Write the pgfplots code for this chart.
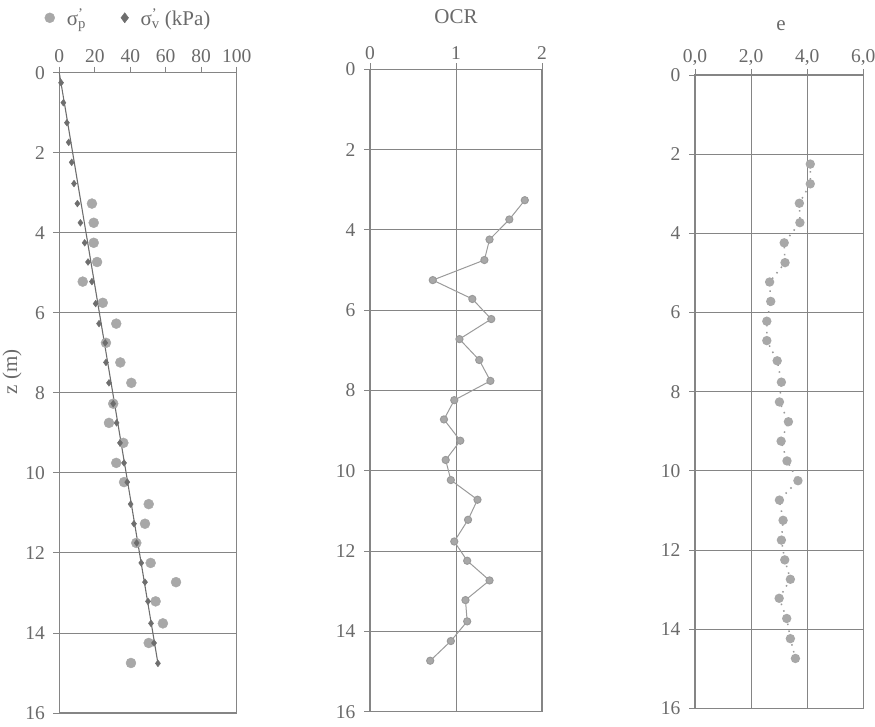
\documentclass[border=0pt]{standalone}
\usepackage{pgfplots}
\pgfplotsset{compat=1.18}
\usepackage{fontspec}
\setmainfont{Liberation Serif}
\definecolor{axgray}{HTML}{858585}
\definecolor{txtgray}{HTML}{6A6A6A}
\definecolor{ptgray}{HTML}{A8A8A8}
\definecolor{dgray}{HTML}{6E6E6E}
\definecolor{lgray}{HTML}{9A9A9A}

\pgfplotsset{
 myax/.style={
  scale only axis, anchor=north west,
  y dir=reverse, ymin=0, ymax=16,
  ytick={0,2,...,16}, yticklabels={0,2,4,6,8,10,12,14,16},
  xtick pos=right, xticklabel pos=right, ytick pos=left,
  axis line style={axgray, line width=1.1pt},
  ymajorgrids, grid style={axgray, line width=0.9pt},
  tick style={axgray, line width=0.9pt}, major tick length=6pt,
  tick align=outside,
  tick label style={font=\fontsize{19.5}{21}\selectfont, text=txtgray},
  yticklabel style={xshift=-5pt},
  xticklabel style={yshift=0pt},
  clip=false,
 }
}

\begin{document}
\begin{tikzpicture}
\path[use as bounding box] (0pt,0pt) rectangle (875pt,-726pt);

% Panel 1
\begin{axis}[myax, at={(59.3pt,-72.7pt)}, width=177.4pt, height=640.3pt,
  xmin=0, xmax=100, xtick={0,20,40,60,80,100}, xticklabels={0,20,40,60,80,100},
  legend columns=2,
  legend style={at={(axis description cs:-0.10,1.107)}, anchor=north west,
    draw=none, fill=none, font=\fontsize{21}{23}\selectfont, text=txtgray,
    /tikz/every odd column/.append style={column sep=10pt},
    /tikz/every even column/.append style={column sep=33pt}},
  ]
\addplot[only marks, mark=*, mark size=5pt, mark options={draw=ptgray, fill=ptgray}]
 coordinates {
 (18.4,3.27) (19.4,3.75) (19.4,4.25) (21.3,4.73) (13.2,5.22) (24.5,5.75)
 (32.1,6.27) (26.3,6.75) (34.4,7.24) (40.6,7.75) (30.4,8.27) (28.0,8.75)
 (36.1,9.25) (32.1,9.75) (36.5,10.23) (50.4,10.78) (48.3,11.27) (43.4,11.75)
 (51.5,12.25) (65.8,12.73) (54.3,13.21) (58.4,13.76) (50.4,14.25) (40.4,14.75)
 };
\addlegendentry{σ\rlap{\textsuperscript{'}}\textsubscript{p}}
\addplot[dgray, line width=1.1pt, forget plot] coordinates {(0,0) (55.6,14.76)};
\addplot[only marks, mark=diamond*, mark size=3.4pt, mark options={draw=dgray, fill=dgray},
  legend image post style={mark options={scale=1.5, draw=dgray, fill=dgray}}]
 coordinates {
 (1.0,0.25) (2.3,0.75) (4.3,1.25) (5.3,1.74) (7.0,2.24) (8.3,2.77) (10.2,3.27)
 (11.9,3.75) (14.3,4.25) (16.2,4.73) (18.4,5.22) (20.5,5.77) (22.4,6.27)
 (25.9,6.75) (26.3,7.24) (28.0,7.75) (30.4,8.27) (32.3,8.75) (34.2,9.25)
 (36.5,9.75) (38.3,10.23) (40.2,10.78) (42.1,11.27) (43.6,11.75) (46.2,12.25)
 (48.3,12.73) (50.0,13.21) (51.7,13.76) (53.4,14.25) (55.6,14.76)
 };
\addlegendentry{σ\rlap{\textsuperscript{'}}\textsubscript{v} (kPa)}
\end{axis}

% Panel 2
\begin{axis}[myax, at={(370pt,-69.3pt)}, width=172pt, height=642.4pt,
  xmin=0, xmax=2, xtick={0,1,2}, xticklabels={0,1,2}, xmajorgrids]
\addplot[lgray, line width=1pt, mark=*, mark size=3.6pt, mark options={draw=lgray, fill=ptgray}]
 coordinates {
 (1.80,3.26) (1.62,3.74) (1.39,4.24) (1.33,4.75) (0.73,5.25) (1.19,5.72)
 (1.41,6.22) (1.04,6.72) (1.27,7.24) (1.40,7.76) (0.98,8.24) (0.86,8.72)
 (1.05,9.25) (0.88,9.73) (0.94,10.23) (1.25,10.72) (1.14,11.22) (0.98,11.76)
 (1.13,12.24) (1.39,12.73) (1.11,13.22) (1.13,13.75) (0.94,14.24) (0.70,14.73)
 };
\end{axis}

% Panel 3
\begin{axis}[myax, at={(695pt,-75pt)}, width=168.3pt, height=633.3pt,
  xmin=0, xmax=6, xtick={0,2,4,6}, xticklabels={{0,0},{2,0},{4,0},{6,0}}, xmajorgrids]
\addplot[lgray, line width=1.5pt, dash pattern=on 1.5pt off 5.5pt, mark=*, mark size=3.9pt,
  mark options={solid, draw=ptgray, fill=ptgray}]
 coordinates {
 (4.11,2.25) (4.11,2.75) (3.72,3.24) (3.74,3.73) (3.18,4.24) (3.21,4.74)
 (2.66,5.23) (2.70,5.72) (2.56,6.22) (2.56,6.71) (2.93,7.22) (3.08,7.76)
 (3.01,8.26) (3.33,8.76) (3.07,9.25) (3.28,9.75) (3.67,10.25) (3.01,10.74)
 (3.14,11.25) (3.08,11.75) (3.20,12.25) (3.40,12.74) (3.00,13.22) (3.27,13.73)
 (3.40,14.24) (3.58,14.74)
 };
\end{axis}

\node[text=txtgray, font=\fontsize{21}{23}\selectfont] at (456pt,-17pt) {OCR};
\node[text=txtgray, font=\fontsize{21}{23}\selectfont] at (781pt,-26pt) {e};
\node[text=txtgray, font=\fontsize{21}{23}\selectfont, rotate=90] at (12pt,-372pt) {z (m)};
\end{tikzpicture}
\end{document}
